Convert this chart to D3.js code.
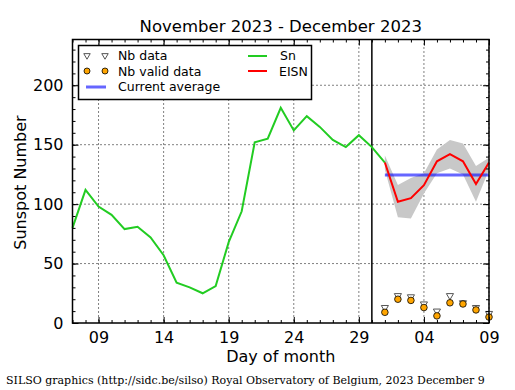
<!DOCTYPE html>
<html>
<head>
<meta charset="utf-8">
<script src="https://cdn.jsdelivr.net/npm/d3@7"></script>
<style>
    body { margin: 0; background: #fff; }
    text { font-family: "DejaVu Sans", sans-serif; fill: #000; }
</style>
</head>
<body>
<svg id="chart" width="515" height="390"></svg>
<script>
// daily sunspot number Sn (green)
var snDays = ['2023-11-07', '2023-11-08', '2023-11-09', '2023-11-10', '2023-11-11', '2023-11-12',
    '2023-11-13', '2023-11-14', '2023-11-15', '2023-11-16', '2023-11-17', '2023-11-18', '2023-11-19',
    '2023-11-20', '2023-11-21', '2023-11-22', '2023-11-23', '2023-11-24', '2023-11-25', '2023-11-26',
    '2023-11-27', '2023-11-28', '2023-11-29', '2023-11-30', '2023-12-01'];
var snValues = [80, 112, 98, 91, 79, 81, 72, 57, 34, 30, 25, 31, 68, 94, 152, 155, 181, 162, 174, 165,
    154, 148, 158, 148, 135];

// estimated ISN (red) with its error band
var eisnDays = ['2023-12-01', '2023-12-02', '2023-12-03', '2023-12-04', '2023-12-05', '2023-12-06',
    '2023-12-07', '2023-12-08', '2023-12-09'];
var eisnValues = [135, 102, 105, 116, 136, 142, 136, 117, 135];
var eisnUpper = [141, 116, 122, 126, 146, 154, 151, 132, 139];
var eisnLower = [129, 89, 88, 109, 126, 130, 125, 102, 129];

// number of stations
var nbData = [13, 23, 22, 16, 10, 23, 17, 13, 8];
var nbValid = [9, 20, 19, 13, 6, 17, 16, 11, 5];

var currentAverage = 124.5;

var xTickDays = ['2023-11-09', '2023-11-14', '2023-11-19', '2023-11-24', '2023-11-29', '2023-12-04', '2023-12-09'];
var yTicks = [0, 50, 100, 150, 200];
var monthEnd = '2023-11-30';

var parse = d3.utcParse('%Y-%m-%d');

var svg = d3.select('#chart');
svg.append('rect').attr('width', 515).attr('height', 390).attr('fill', '#fff');

var plotL = 72.5, plotR = 489, plotT = 39.5, plotB = 323;

var xScale = d3.scaleUtc().domain([parse('2023-11-07'), parse('2023-12-09')]).range([plotL, plotR]);
var yScale = d3.scaleLinear().domain([0, 238.5]).range([plotB, plotT]);

// grid
var grid = svg.append('g').attr('stroke', '#000').attr('stroke-width', 1).attr('stroke-dasharray', '1,3');
grid.selectAll('.vg').data(xTickDays).enter().append('line')
    .attr('x1', function(d) { return xScale(parse(d)); })
    .attr('x2', function(d) { return xScale(parse(d)); })
    .attr('y1', plotT).attr('y2', plotB);
grid.selectAll('.hg').data(yTicks.slice(1)).enter().append('line')
    .attr('x1', plotL).attr('x2', plotR)
    .attr('y1', function(d) { return yScale(d); })
    .attr('y2', function(d) { return yScale(d); });

// error band
var band = d3.area()
    .x(function(d, i) { return xScale(parse(eisnDays[i])); })
    .y0(function(d, i) { return yScale(eisnLower[i]); })
    .y1(function(d, i) { return yScale(eisnUpper[i]); });
svg.append('path').datum(eisnDays).attr('d', band).attr('fill', '#c8c8c8');

// month separator
svg.append('line')
    .attr('x1', xScale(parse(monthEnd))).attr('x2', xScale(parse(monthEnd)))
    .attr('y1', plotT).attr('y2', plotB)
    .attr('stroke', '#000').attr('stroke-width', 1.5);

// current average
svg.append('line')
    .attr('x1', xScale(parse(eisnDays[0]))).attr('x2', xScale(parse(eisnDays[eisnDays.length - 1])))
    .attr('y1', yScale(currentAverage)).attr('y2', yScale(currentAverage))
    .attr('stroke', '#0000ff').attr('stroke-opacity', 0.6).attr('stroke-width', 3);

var snLine = d3.line()
    .x(function(d, i) { return xScale(parse(snDays[i])); })
    .y(function(d) { return yScale(d); });
svg.append('path').datum(snValues).attr('d', snLine)
    .attr('fill', 'none').attr('stroke', '#22cc22').attr('stroke-width', 2);

var eisnLine = d3.line()
    .x(function(d, i) { return xScale(parse(eisnDays[i])); })
    .y(function(d) { return yScale(d); });
svg.append('path').datum(eisnValues).attr('d', eisnLine)
    .attr('fill', 'none').attr('stroke', '#ff0000').attr('stroke-width', 2);

// station markers
var tri = d3.symbol().type(d3.symbolTriangle).size(22);
svg.append('g').selectAll('path').data(nbData).enter().append('path')
    .attr('d', tri)
    .attr('transform', function(d, i) { return 'translate(' + xScale(parse(eisnDays[i])) + ',' + yScale(d) + ') rotate(180)'; })
    .attr('fill', '#fff').attr('stroke', '#555').attr('stroke-width', 1);
svg.append('g').selectAll('circle').data(nbValid).enter().append('circle')
    .attr('cx', function(d, i) { return xScale(parse(eisnDays[i])); })
    .attr('cy', function(d) { return yScale(d); })
    .attr('r', 3.3)
    .attr('fill', '#ffa500').attr('stroke', '#000').attr('stroke-width', 0.8);

// axes, ticks pointing inward on all four sides
var xMajor = xTickDays.map(parse);
var xMinor = xScale.ticks(d3.utcDay);
var yMinor = d3.range(0, 240, 10);
var dayFmt = d3.utcFormat('%d');

var axes = [
    [d3.axisBottom(xScale), 'translate(0,' + plotB + ')', -3, xMinor, null],
    [d3.axisBottom(xScale), 'translate(0,' + plotB + ')', -6, xMajor, dayFmt],
    [d3.axisTop(xScale), 'translate(0,' + plotT + ')', -3, xMinor, null],
    [d3.axisTop(xScale), 'translate(0,' + plotT + ')', -6, xMajor, null],
    [d3.axisLeft(yScale), 'translate(' + plotL + ',0)', -3, yMinor, null],
    [d3.axisLeft(yScale), 'translate(' + plotL + ',0)', -6, yTicks, d3.format('d')],
    [d3.axisRight(yScale), 'translate(' + plotR + ',0)', -3, yMinor, null],
    [d3.axisRight(yScale), 'translate(' + plotR + ',0)', -6, yTicks, null]
];
axes.forEach(function(a) {
    var axis = a[0].tickValues(a[3]).tickSizeInner(a[2]).tickSizeOuter(0)
        .tickPadding(a[2] === -6 ? 9 : 3)
        .tickFormat(a[4] ? a[4] : function() { return ''; });
    var g = svg.append('g').attr('transform', a[1]).call(axis);
    g.select('.domain').remove();
    g.selectAll('line').attr('stroke', '#000').attr('stroke-width', 1);
    g.selectAll('text').style('font-size', '16px').style('font-family', 'DejaVu Sans').attr('fill', '#000');
});

svg.append('rect').attr('x', plotL).attr('y', plotT).attr('width', plotR - plotL).attr('height', plotB - plotT)
    .attr('fill', 'none').attr('stroke', '#000').attr('stroke-width', 1.5);

// legend
var lg = svg.append('g');
lg.append('rect').attr('x', 78.5).attr('y', 45.5).attr('width', 233).attr('height', 54)
    .attr('fill', '#fff').attr('stroke', '#000').attr('stroke-width', 1.5);
[87, 105].forEach(function(x) {
    lg.append('path').attr('d', d3.symbol().type(d3.symbolTriangle).size(18))
        .attr('transform', 'translate(' + x + ',55.5) rotate(180)')
        .attr('fill', '#fff').attr('stroke', '#555').attr('stroke-width', 1);
    lg.append('circle').attr('cx', x).attr('cy', 71).attr('r', 3)
        .attr('fill', '#ffa500').attr('stroke', '#000').attr('stroke-width', 0.8);
});
lg.append('line').attr('x1', 86).attr('x2', 106).attr('y1', 87).attr('y2', 87)
    .attr('stroke', '#0000ff').attr('stroke-opacity', 0.6).attr('stroke-width', 3);
lg.append('line').attr('x1', 248).attr('x2', 267).attr('y1', 56).attr('y2', 56)
    .attr('stroke', '#22cc22').attr('stroke-width', 2);
lg.append('line').attr('x1', 248).attr('x2', 267).attr('y1', 71).attr('y2', 71)
    .attr('stroke', '#ff0000').attr('stroke-width', 2);
var legendText = [['Nb data', 118, 60], ['Nb valid data', 118, 75.5], ['Current average', 118, 91],
    ['Sn', 280, 60], ['EISN', 279, 75.5]];
legendText.forEach(function(t) {
    lg.append('text').attr('x', t[1]).attr('y', t[2]).style('font-size', '12.5px').text(t[0]);
});

svg.append('text').attr('x', (plotL + plotR) / 2).attr('y', 32).attr('text-anchor', 'middle')
    .style('font-size', '16.5px').text('November 2023 - December 2023');
svg.append('text').attr('x', (plotL + plotR) / 2).attr('y', 362).attr('text-anchor', 'middle')
    .style('font-size', '16px').text('Day of month');
svg.append('text').attr('transform', 'translate(26,182.5) rotate(-90)').attr('text-anchor', 'middle')
    .style('font-size', '16px').text('Sunspot Number');
svg.append('text').attr('x', 6).attr('y', 384)
    .style('font-size', '11px').style('font-family', 'DejaVu Serif')
    .text('SILSO graphics (http://sidc.be/silso) Royal Observatory of Belgium, 2023 December 9');
</script>
</body>
</html>
